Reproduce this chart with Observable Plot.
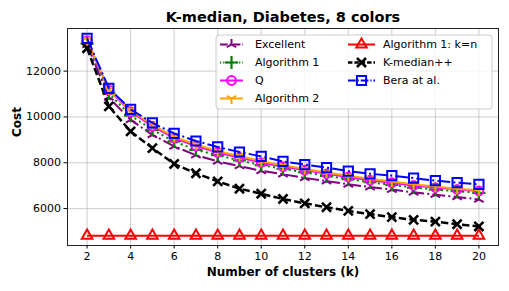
<!DOCTYPE html>
<html><head><meta charset="utf-8">
<script src="https://cdn.jsdelivr.net/npm/d3@7"></script>
<script src="https://cdn.jsdelivr.net/npm/@observablehq/plot@0.6"></script>
<style>body{margin:0;background:#fff}svg{display:block}</style>
</head><body><div id="chart"></div>
<script>
// ---- data ----
const ks = [2,3,4,5,6,7,8,9,10,11,12,13,14,15,16,17,18,19,20];
const excellent  = [13150,10850,9870,9220,8720,8330,8060,7860,7650,7500,7340,7200,7060,6940,6830,6710,6610,6510,6400];
const algorithm1 = [13200,11030,10060,9440,8930,8560,8330,8100,7900,7740,7580,7430,7290,7150,7040,6920,6830,6760,6690];
const q          = [13330,11170,10230,9600,9080,8730,8450,8230,8010,7830,7680,7520,7380,7240,7130,7010,6920,6840,6770];
const algorithm2 = [13360,11200,10280,9660,9130,8800,8500,8300,8070,7890,7730,7580,7430,7300,7180,7060,6960,6870,6800];
const algKn      = [4820,4820,4820,4820,4820,4820,4820,4820,4820,4820,4820,4820,4820,4820,4820,4820,4820,4820,4820];
const kmedianPP  = [13000,10460,9370,8640,7950,7540,7190,6870,6650,6420,6230,6060,5900,5760,5630,5510,5430,5320,5220];
const bera       = [13430,11250,10330,9740,9280,8950,8690,8470,8280,8060,7920,7790,7640,7520,7440,7330,7220,7130,7060];
const seriesNames = ["Excellent","Algorithm 1","Q","Algorithm 2","Algorithm 1: k=n","K-median++","Bera at al."];
const seriesValues = [excellent, algorithm1, q, algorithm2, algKn, kmedianPP, bera];
const xTicks = [2,4,6,8,10,12,14,16,18,20];
const yTicks = [6000,8000,10000,12000];
const titleText = "K-median, Diabetes, 8 colors";
const xLabel = "Number of clusters (k)";
const yLabel = "Cost";

// ---- styles ----
const triUp = {draw(ctx, size){const r=Math.sqrt(size/Math.PI);
  ctx.moveTo(0,0);ctx.lineTo(0,-r);ctx.moveTo(0,0);ctx.lineTo(-0.866*r,0.5*r);ctx.moveTo(0,0);ctx.lineTo(0.866*r,0.5*r);}};
const triDown = {draw(ctx, size){const r=Math.sqrt(size/Math.PI);
  ctx.moveTo(0,0);ctx.lineTo(0,r);ctx.moveTo(0,0);ctx.lineTo(-0.866*r,-0.5*r);ctx.moveTo(0,0);ctx.lineTo(0.866*r,-0.5*r);}};
const dashDot = "12.8,3.2,2,3.2";
const styles = [
  {color:"#800080", dash:dashDot, symbol:triUp, r:5.5, sw:2, lw:2},
  {color:"#008000", dash:"2,3.3", symbol:"plus", r:4.3, sw:2.2, lw:2},
  {color:"#ff00ff", dash:null, symbol:"circle", r:4.4, sw:2, lw:2},
  {color:"#ffa500", dash:null, symbol:triDown, r:5.5, sw:2, lw:2},
  {color:"#ff0000", dash:null, symbol:"triangle", r:3.9, sw:2, lw:2},
  {color:"#000000", dash:"7.4,3.2", symbol:"times", r:4.2, sw:2.6, lw:2.5},
  {color:"#0000ff", dash:dashDot, symbol:"square", r:5.2, sw:2, lw:2}
];

const rows = seriesNames.map((name,i)=>ks.map((k,j)=>({k, v: seriesValues[i][j], name})));

const marks = [
  Plot.gridX(xTicks, {stroke:"#b0b0b0", strokeOpacity:0.8, strokeWidth:0.8}),
  Plot.gridY(yTicks, {stroke:"#b0b0b0", strokeOpacity:0.8, strokeWidth:0.8}),
];
rows.forEach((data,i)=>{
  const s = styles[i];
  marks.push(Plot.line(data, {x:"k", y:"v", stroke:s.color, strokeWidth:s.lw, strokeDasharray:s.dash, strokeLinecap:"butt"}));
  marks.push(Plot.dot(data, {x:"k", y:"v", symbol:s.symbol, r:s.r, stroke:s.color, fill:"none", strokeWidth:s.sw}));
});
marks.push(
  Plot.frame({stroke:"#222", strokeWidth:1}),
  Plot.axisX(xTicks, {tickSize:3.5, tickPadding:3, fontSize:11, label:null, tickFormat:d=>String(d)}),
  Plot.axisY(yTicks, {tickSize:3.5, tickPadding:3, fontSize:11, label:null, tickFormat:d=>String(d)}),
  Plot.text([titleText], {frameAnchor:"top", lineAnchor:"middle", dy:-11, fontSize:14.5, fontWeight:"bold", fill:"#000"}),
  Plot.text([xLabel], {frameAnchor:"bottom", lineAnchor:"middle", dy:27, fontSize:12, fontWeight:"bold", fill:"#000"}),
  Plot.text([yLabel], {frameAnchor:"left", dx:-50, rotate:-90, fontSize:12, fontWeight:"bold", fill:"#000"})
);

const svg = Plot.plot({
  width:509, height:291,
  marginLeft:67, marginRight:11, marginTop:28, marginBottom:46,
  style:{fontFamily:"'DejaVu Sans', sans-serif", fontSize:"11px", color:"#000", background:"#fff"},
  x:{domain:[1.1,20.9]},
  y:{domain:[4390,13860]},
  marks
});
document.getElementById("chart").appendChild(svg);

// ---- legend ----
const sel = d3.select(svg);
const g = sel.append("g").attr("font-family","'DejaVu Sans', sans-serif").attr("font-size",11).attr("text-anchor","start");
g.append("rect").attr("x",216).attr("y",35).attr("width",276).attr("height",74).attr("rx",3)
  .attr("fill","#fff").attr("fill-opacity",0.8).attr("stroke","#cccccc").attr("stroke-width",1);
const rowsY = [44.5,62.5,80.5,98.5];
seriesNames.forEach((name,i)=>{
  const s = styles[i];
  const col = i < 4 ? 0 : 1;
  const row = i < 4 ? i : i-4;
  const x0 = col===0 ? 220 : 348, x1 = col===0 ? 243 : 375, tx = col===0 ? 255 : 383;
  const y = rowsY[row];
  g.append("line").attr("x1",x0).attr("x2",x1).attr("y1",y).attr("y2",y)
    .attr("stroke",s.color).attr("stroke-width",s.lw).attr("stroke-dasharray",s.dash ? s.dash.split(",").map(d=>+d*0.6).join(",") : null);
  const symObj = typeof s.symbol === "string" ? {circle:d3.symbolCircle,plus:d3.symbolPlus,triangle:d3.symbolTriangle,times:d3.symbolTimes,square:d3.symbolSquare}[s.symbol] : s.symbol;
  g.append("path").attr("d", d3.symbol(symObj, Math.PI*s.r*s.r)())
    .attr("transform",`translate(${(x0+x1)/2},${y})`)
    .attr("fill","none").attr("stroke",s.color).attr("stroke-width",s.sw);
  g.append("text").attr("x",tx).attr("y",y).attr("dy","0.35em").attr("text-anchor","start").attr("fill","#000").text(name);
});
</script></body></html>
